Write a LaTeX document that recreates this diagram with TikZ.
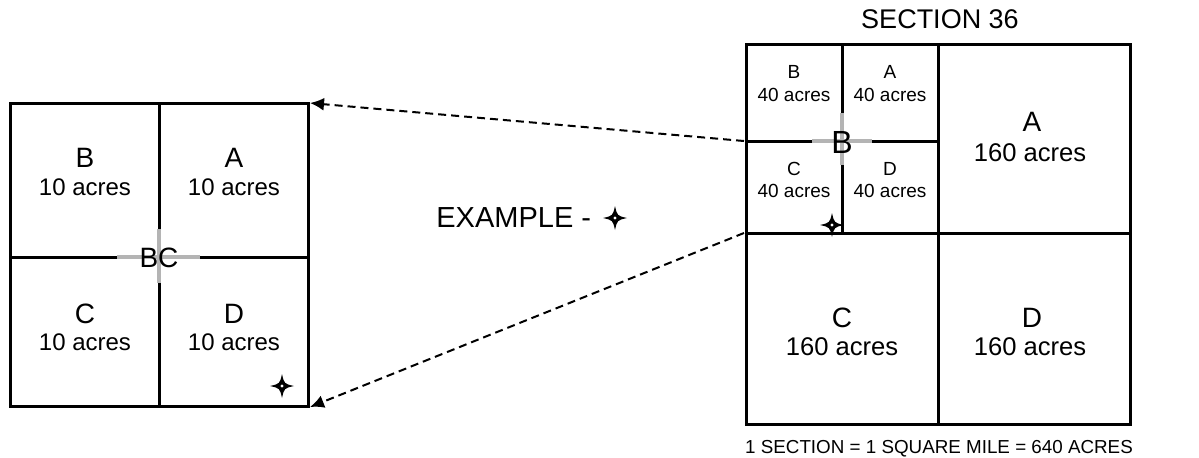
\documentclass[tikz,border=0pt]{standalone}
\usepackage{fontspec}
\setmainfont{Liberation Sans}
\usetikzlibrary{arrows.meta}
\definecolor{crossgray}{RGB}{180,180,180}

\begin{document}
\begin{tikzpicture}[x=0.5pt, y=-0.5pt,
   box/.style={line width=1.5pt},
   cross/.style={line width=1.8pt, draw=crossgray},
   arr/.style={dash pattern=on 4pt off 2.5pt, line width=1pt, -{Latex[length=7pt,width=6.5pt]}},
   every node/.style={inner sep=0pt, anchor=base},
   bigl/.style={font=\fontsize{14}{16}\selectfont},
   midl/.style={font=\fontsize{12}{14}\selectfont},
   smalll/.style={font=\fontsize{9.5}{11}\selectfont},
   acresl/.style={font=\fontsize{12.8}{15}\selectfont},
   crossl/.style={font=\fontsize{14}{16}\selectfont},
   spark/.pic={
     \fill (0,-12) .. controls (2.2,-2.2) .. (12,0) .. controls (2.2,2.2) .. (0,12)
        .. controls (-2.2,2.2) .. (-12,0) .. controls (-2.2,-2.2) .. (0,-12) -- cycle;
     \fill[white] (0,0) circle (0.8pt);
   }]

\useasboundingbox (0,0) rectangle (1199,457);

% left square, quarter of quarter
\draw[box] (10,103) rectangle (308,406);
\draw[box] (159,103) -- (159,406);
\draw[box] (10,257) -- (308,257);
\draw[cross] (117,257) -- (200,257) (159,229) -- (159,283);
\coordinate (lsq-ne) at (310,103);
\coordinate (lsq-se) at (310,407);

\node[bigl] (lB) at (85,167) {B};
\node[midl] (lBa) at (85,195) {10 acres};
\node[bigl] (lA) at (234,167) {A};
\node[midl] (lAa) at (234,195) {10 acres};
\node[bigl] (lC) at (85,323) {C};
\node[midl] (lCa) at (85,350) {10 acres};
\node[bigl] (lD) at (234,323) {D};
\node[midl] (lDa) at (234,350) {10 acres};
\node[crossl] (lBC) at (159,267) {BC};
\pic (lstar) at (282,386) {spark};

% example
\node[font=\fontsize{14.5}{17}\selectfont, anchor=base west] (ex) at (436,227) {EXAMPLE -};
\pic (exstar) at (615,218) {spark};

% section 36
\node[font=\fontsize{13.5}{16}\selectfont] (sec) at (940,28) {SECTION 36};
\draw[box] (746,44) rectangle (1130,424);
\draw[box] (938,44) -- (938,424);
\draw[box] (746,233) -- (1130,233);
\draw[box] (842,44) -- (842,233);
\draw[box] (746,141) -- (938,141);
\draw[cross] (812,141) -- (872,141) (842,113) -- (842,165);
\coordinate (rsq-b) at (744,141);
\coordinate (rsq-w) at (744,233);

\node[smalll] (rB) at (794,78) {B};
\node[smalll] (rBa) at (794,101) {40 acres};
\node[smalll] (rA) at (890,78) {A};
\node[smalll] (rAa) at (890,101) {40 acres};
\node[smalll] (rC) at (794,175) {C};
\node[smalll] (rCa) at (794,197) {40 acres};
\node[smalll] (rD) at (890,175) {D};
\node[smalll] (rDa) at (890,197) {40 acres};
\node[font=\fontsize{16}{18}\selectfont] (rBx) at (842,153) {B};
\pic (rstar) at (832,225) {spark};

\node[bigl] (RA) at (1032,131) {A};
\node[acresl] (RAa) at (1030,161) {160 acres};
\node[bigl] (RC) at (842,327) {C};
\node[acresl] (RCa) at (842,355) {160 acres};
\node[bigl] (RD) at (1032,327) {D};
\node[acresl] (RDa) at (1030,355) {160 acres};

\node[font=\fontsize{9.4}{11}\selectfont] (cap) at (939,453) {1 SECTION = 1 SQUARE MILE = 640 ACRES};

\draw[arr] (rsq-b) -- (lsq-ne);
\draw[arr] (rsq-w) -- (lsq-se);

\end{tikzpicture}
\end{document}
